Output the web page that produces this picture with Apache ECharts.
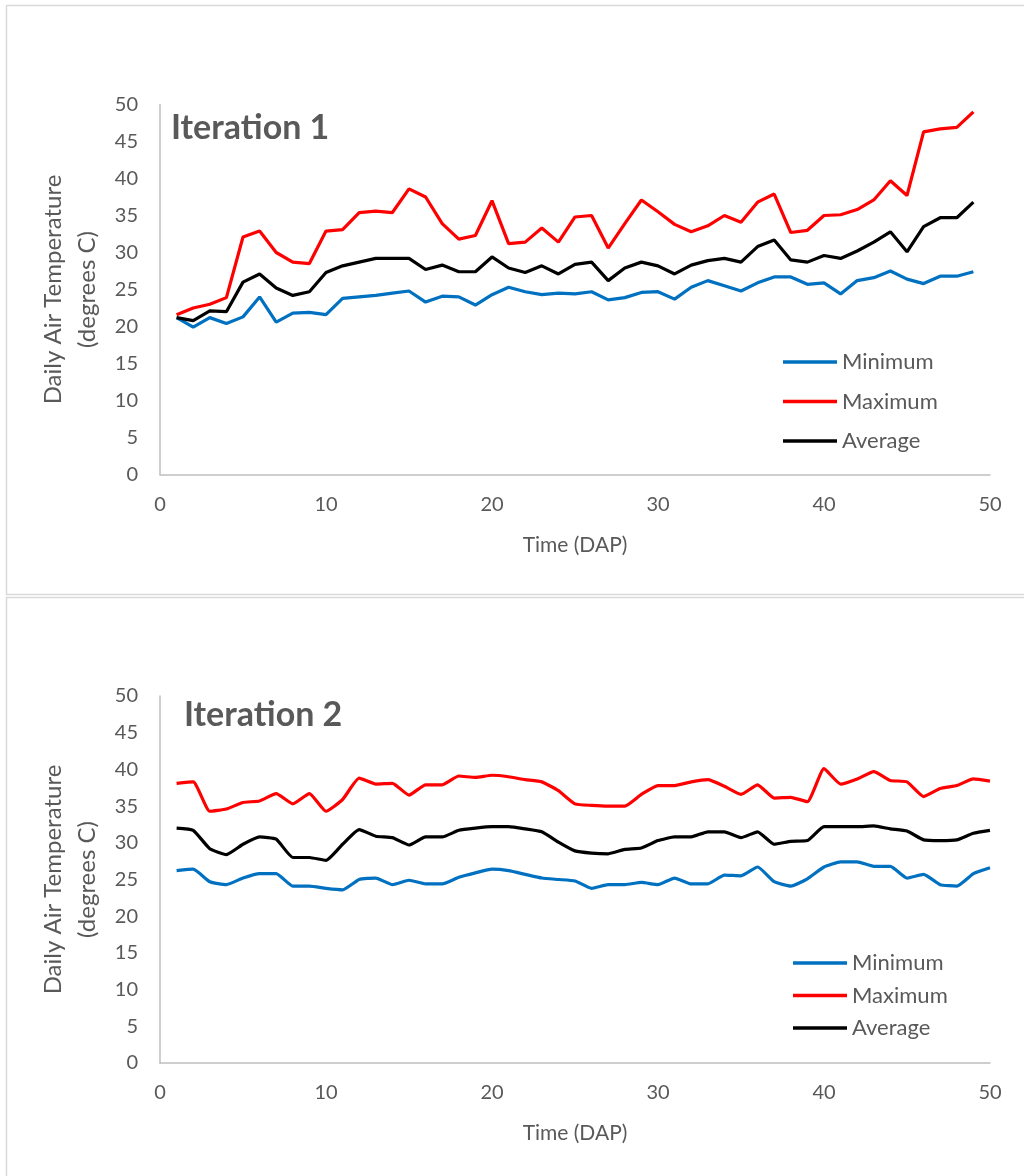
<!DOCTYPE html>
<html>
<head>
<meta charset="utf-8">
<script src="https://cdn.jsdelivr.net/npm/echarts@6/dist/echarts.min.js"></script>
<style>
html,body{margin:0;padding:0;background:#fff;}
#chart{width:1024px;height:1176px;}
</style>
</head>
<body>
<div id="chart"></div>
<script>
// ---- Data ----
const days1 = [1,2,3,4,5,6,7,8,9,10,11,12,13,14,15,16,17,18,19,20,21,22,23,24,25,26,27,28,29,30,31,32,33,34,35,36,37,38,39,40,41,42,43,44,45,46,47,48,49];
const min1 = [21.2,19.9,21.2,20.4,21.3,24.0,20.6,21.8,21.9,21.6,23.8,24.0,24.2,24.5,24.8,23.3,24.1,24.0,22.9,24.3,25.3,24.7,24.3,24.5,24.4,24.7,23.6,23.9,24.6,24.7,23.7,25.3,26.2,25.5,24.8,25.9,26.7,26.7,25.7,25.9,24.4,26.2,26.6,27.5,26.4,25.8,26.8,26.8,27.4];
const max1 = [21.6,22.5,23.0,23.9,32.1,32.9,30.0,28.7,28.5,32.9,33.1,35.4,35.6,35.4,38.6,37.5,33.9,31.8,32.3,37.0,31.2,31.4,33.3,31.4,34.8,35.0,30.6,33.9,37.1,35.5,33.8,32.8,33.6,35.0,34.1,36.8,37.9,32.7,33.0,35.0,35.1,35.8,37.1,39.7,37.7,46.3,46.7,46.9,49.0];
const avg1 = [21.2,20.8,22.1,22.0,26.0,27.1,25.2,24.2,24.7,27.3,28.2,28.7,29.2,29.2,29.2,27.7,28.3,27.4,27.4,29.4,27.9,27.3,28.2,27.1,28.4,28.7,26.2,27.9,28.7,28.2,27.1,28.3,28.9,29.2,28.7,30.8,31.7,29.0,28.7,29.6,29.2,30.2,31.4,32.8,30.1,33.5,34.7,34.7,36.8];

const days2 = [1,2,3,4,5,6,7,8,9,10,11,12,13,14,15,16,17,18,19,20,21,22,23,24,25,26,27,28,29,30,31,32,33,34,35,36,37,38,39,40,41,42,43,44,45,46,47,48,49,50];
const min2 = [26.2,26.4,24.7,24.3,25.2,25.8,25.8,24.1,24.1,23.8,23.6,25.0,25.2,24.3,24.9,24.4,24.4,25.3,25.9,26.4,26.2,25.7,25.2,25.0,24.8,23.8,24.3,24.3,24.6,24.3,25.2,24.4,24.4,25.6,25.5,26.7,24.7,24.1,25.1,26.7,27.4,27.4,26.8,26.8,25.2,25.7,24.3,24.1,25.8,26.6];
const max2 = [38.1,38.3,34.3,34.6,35.5,35.7,36.7,35.3,36.7,34.3,35.9,38.8,38.0,38.1,36.5,37.9,37.9,39.1,38.9,39.2,39.0,38.6,38.3,37.1,35.3,35.1,35.0,35.0,36.6,37.8,37.8,38.3,38.6,37.7,36.6,37.9,36.1,36.2,35.6,40.1,38.0,38.7,39.7,38.5,38.3,36.3,37.4,37.8,38.7,38.4];
const avg2 = [32.0,31.7,29.2,28.4,29.8,30.8,30.5,28.0,28.0,27.6,29.8,31.8,30.9,30.7,29.7,30.8,30.8,31.7,32.0,32.2,32.2,31.9,31.5,30.1,28.9,28.6,28.5,29.1,29.3,30.3,30.8,30.8,31.5,31.5,30.7,31.5,29.8,30.2,30.3,32.2,32.2,32.2,32.3,31.9,31.6,30.4,30.3,30.4,31.3,31.7];

const xTicks = [0,10,20,30,40,50];
const yTicks = [0,5,10,15,20,25,30,35,40,45,50];
const seriesNames = ['Minimum','Maximum','Average'];
const titles = ['Iteration 1','Iteration 2'];
const xName = 'Time (DAP)';
const yName = 'Daily Air Temperature\n(degrees C)';

// ---- Styling ----
const FONT = 'Lato';
const colors = ['#0070C0','#FF0000','#000000'];
const textColor = '#595959';
const axisColor = '#BFBFBF';

function pairs(xs, ys){ return xs.map((x,i)=>[x, ys[i]]); }

function xAxis(idx){
  return {
    gridIndex: idx, type:'value', min: xTicks[0], max: xTicks[xTicks.length-1], interval: xTicks[1]-xTicks[0],
    name: xName, nameLocation:'middle', nameGap: 60,
    nameTextStyle:{color:textColor, fontFamily:FONT, fontSize:21},
    axisLine:{show:true, lineStyle:{color:axisColor, width:1.5}},
    axisTick:{show:false}, splitLine:{show:false},
    axisLabel:{color:textColor, fontFamily:FONT, fontSize:20, margin:20}
  };
}
function yAxis(idx){
  return {
    gridIndex: idx, type:'value', min: yTicks[0], max: yTicks[yTicks.length-1], interval: yTicks[1]-yTicks[0],
    name: yName, nameLocation:'middle', nameGap: 46, nameRotate: 90,
    nameTextStyle:{color:textColor, fontFamily:FONT, fontSize:24, lineHeight:34},
    axisLine:{show:true, lineStyle:{color:axisColor, width:1.5}},
    axisTick:{show:false}, splitLine:{show:false},
    axisLabel:{color:textColor, fontFamily:FONT, fontSize:20, margin:22}
  };
}
function mkSeries(idx, days, arrs, smooth){
  return arrs.map((arr,k)=>({
    name: seriesNames[k], type:'line', xAxisIndex: idx, yAxisIndex: idx,
    data: pairs(days, arr), symbol:'none', showSymbol:false, smooth:smooth,
    lineStyle:{color:colors[k], width:3.2}, itemStyle:{color:colors[k]},
    emphasis:{disabled:true}, z: 3
  }));
}
function legend(left, top, gap){
  return {
    data: seriesNames.map(n=>({name:n, icon:'rect'})), orient:'vertical', left:left, top:top,
    itemWidth:54, itemHeight:3.5, itemGap:gap,
    textStyle:{color:textColor, fontFamily:FONT, fontSize:22},
    selectedMode:false
  };
}

const chart = echarts.init(document.getElementById('chart'), null, {renderer:'canvas'});
chart.setOption({
  animation:false,
  backgroundColor:'#fff',
  title:[
    {text:titles[0], left:166, top:106, textStyle:{color:textColor, fontFamily:FONT, fontWeight:'bold', fontSize:34}},
    {text:titles[1], left:179, top:693, textStyle:{color:textColor, fontFamily:FONT, fontWeight:'bold', fontSize:34}}
  ],
  legend:[ legend(778, 346, 17.5), legend(788, 947, 10.5) ],
  grid:[
    {left:160, right:34, top:104.5, height:370, containLabel:false},
    {left:160, right:34, top:696, height:367, containLabel:false}
  ],
  xAxis:[xAxis(0), xAxis(1)],
  yAxis:[yAxis(0), yAxis(1)],
  series:[].concat(mkSeries(0, days1, [min1,max1,avg1], false), mkSeries(1, days2, [min2,max2,avg2], 0.15)),
  graphic:[
    {type:'rect', shape:{x:6.5, y:5.5, width:1100, height:589}, style:{fill:'none', stroke:'#D9D9D9', lineWidth:1.5}, silent:true, z:-1},
    {type:'rect', shape:{x:6.5, y:597.5, width:1100, height:700}, style:{fill:'none', stroke:'#D9D9D9', lineWidth:1.5}, silent:true, z:-1}
  ]
});
</script>
</body>
</html>
